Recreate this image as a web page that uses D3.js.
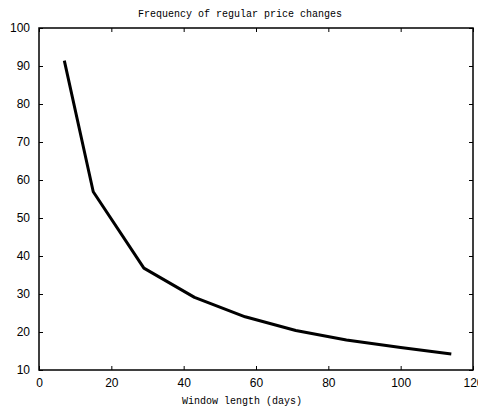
<!DOCTYPE html>
<html><head><meta charset="utf-8">
<script src="https://cdn.jsdelivr.net/npm/d3@7"></script>
<style>body{margin:0;background:#fff}svg{display:block}</style>
</head><body>
<svg id="c" width="478" height="413"></svg>
<script>
const windowDays = [7, 15, 29, 43, 57, 71, 85, 100, 114];
const frequency = [91.4, 56.9, 36.8, 29.1, 24.0, 20.4, 17.9, 15.9, 14.2];
const xTicks = [0, 20, 40, 60, 80, 100, 120];
const yTicks = [10, 20, 30, 40, 50, 60, 70, 80, 90, 100];
const title = "Frequency of regular price changes";
const xLabel = "Window length (days)";

const svg = d3.select("#c");
const L = 39, R = 473, T = 28, B = 370;
const x = d3.scaleLinear().domain([0, 120]).range([L, R]);
const y = d3.scaleLinear().domain([10, 100]).range([B, T]);

const mono = "'Liberation Mono', 'DejaVu Sans Mono', monospace";
const sans = "'Liberation Sans', Arial, sans-serif";

// axes with inward ticks
const ax = (g, axis) => { g.call(axis); g.select(".domain").remove(); g.selectAll("line").attr("stroke", "#000"); };
svg.append("g").attr("transform", `translate(0,${B})`)
  .call(g => ax(g, d3.axisBottom(x).tickValues(xTicks).tickSize(-4).tickPadding(8)))
  .selectAll("text").attr("font-family", sans).attr("font-size", 12).attr("fill", "#000");
svg.append("g").attr("transform", `translate(0,${T})`)
  .call(g => ax(g, d3.axisTop(x).tickValues(xTicks).tickSize(-4).tickFormat("")));
svg.append("g").attr("transform", `translate(${L},0)`)
  .call(g => ax(g, d3.axisLeft(y).tickValues(yTicks).tickSize(-4).tickPadding(9)))
  .selectAll("text").attr("font-family", sans).attr("font-size", 12).attr("fill", "#000");
svg.append("g").attr("transform", `translate(${R},0)`)
  .call(g => ax(g, d3.axisRight(y).tickValues(yTicks).tickSize(-4).tickFormat("")));

svg.append("rect").attr("x", L).attr("y", T).attr("width", R - L).attr("height", B - T)
  .attr("fill", "none").attr("stroke", "#000").attr("stroke-width", 1.5);

const line = d3.line().x((d, i) => x(windowDays[i])).y(d => y(d));
svg.append("path").datum(frequency).attr("d", line)
  .attr("fill", "none").attr("stroke", "#000").attr("stroke-width", 3).attr("stroke-linejoin", "round");

svg.append("text").attr("x", 240).attr("y", 17).attr("text-anchor", "middle")
  .attr("font-family", mono).attr("font-size", 10).text(title);
svg.append("text").attr("x", 242).attr("y", 404).attr("text-anchor", "middle")
  .attr("font-family", mono).attr("font-size", 10).text(xLabel);
</script>
</body></html>
